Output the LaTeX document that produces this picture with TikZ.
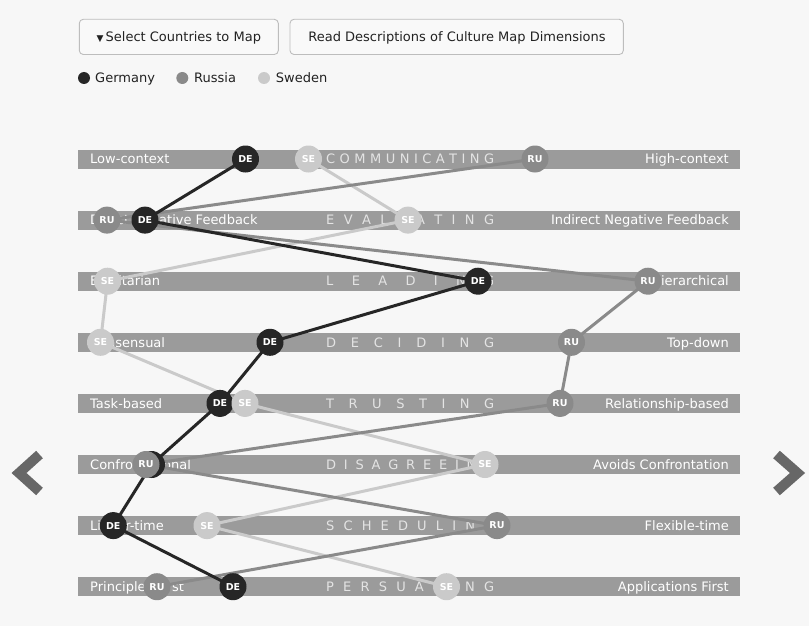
\documentclass[tikz,border=0pt]{standalone}
\usepackage{fontspec}
\setmainfont{DejaVu Sans}
\definecolor{bgc}{HTML}{F7F7F7}
\definecolor{barc}{HTML}{9B9B9B}
\definecolor{dimc}{HTML}{E4E4E4}
\definecolor{dec}{HTML}{262626}
\definecolor{ruc}{HTML}{8A8A8A}
\definecolor{sec}{HTML}{CACACA}
\definecolor{txtc}{HTML}{222222}
\definecolor{chevc}{HTML}{676767}
\definecolor{btnb}{HTML}{BDBDBD}
\definecolor{btnf}{HTML}{F9F9F9}
\pgfdeclarelayer{bglayer}
\pgfdeclarelayer{barlayer}
\pgfdeclarelayer{linelayer}
\pgfsetlayers{bglayer,barlayer,linelayer,main}
\begin{document}
\begin{tikzpicture}[x=1pt,y=-1pt,
  bar/.style={fill=barc, minimum width=662pt, minimum height=19pt, inner sep=0pt, anchor=west},
  lbl/.style={text=white, font=\fontsize{13}{15}\selectfont, inner sep=0pt},
  dimw/.style={text=dimc, font=\fontsize{13}{15}\selectfont, inner sep=0pt, anchor=base west},
  dot/.style={circle, minimum size=27pt, inner sep=0pt, text=white, font=\fontsize{9.5}{10}\selectfont\bfseries},
  dedot/.style={dot, fill=dec},
  rudot/.style={dot, fill=ruc},
  sedot/.style={dot, fill=sec},
  deline/.style={draw=dec, line width=3pt},
  ruline/.style={draw=ruc, line width=3pt},
  seline/.style={draw=sec, line width=3pt},
  btn/.style={draw=btnb, fill=btnf, rounded corners=4pt, line width=0.9pt},
  btntxt/.style={text=txtc, font=\fontsize{13}{15}\selectfont, inner sep=0pt, anchor=base},
  legtxt/.style={text=txtc, font=\fontsize{13}{15}\selectfont, inner sep=0pt, anchor=base west},
  legdot/.style={circle, minimum size=12pt, inner sep=0pt},
  chev/.style={draw=chevc, line width=10pt, miter limit=10}
]
\begin{pgfonlayer}{bglayer}
\fill[bgc] (0,0) rectangle (809,626);
\end{pgfonlayer}
\useasboundingbox (0,0) rectangle (809,626);

% buttons
\draw[btn] (79.3,19.3) rectangle (278.3,54.5);
\node[btntxt] (btnA) at (178.8,41.7) {{\fontsize{9}{10}\selectfont ▼}\,Select Countries to Map};
\draw[btn] (290,19.3) rectangle (623.3,54.5);
\node[btntxt] (btnB) at (457,41.7) {Read Descriptions of Culture Map Dimensions};

% legend
\node[legdot, fill=dec] (lgde) at (84,78) {};
\node[legtxt] (lgdet) at (95,82.7) {Germany};
\node[legdot, fill=ruc] (lgru) at (182.3,78) {};
\node[legtxt] (lgrut) at (194,82.7) {Russia};
\node[legdot, fill=sec] (lgse) at (264,78) {};
\node[legtxt] (lgset) at (275.7,82.7) {Sweden};

% bars
\begin{pgfonlayer}{barlayer}
\foreach \i/\y/\l/\c/\r in {
 1/159.0/{Low-context}/{C\hfill O\hfill M\hfill M\hfill U\hfill N\hfill I\hfill C\hfill A\hfill T\hfill I\hfill N\hfill G}/{High-context},
 2/220.1/{Direct Negative Feedback}/{E\hfill V\hfill A\hfill L\hfill U\hfill A\hfill T\hfill I\hfill N\hfill G}/{Indirect Negative Feedback},
 3/281.2/{Egalitarian}/{L\hfill E\hfill A\hfill D\hfill I\hfill N\hfill G}/{Hierarchical},
 4/342.3/{Consensual}/{D\hfill E\hfill C\hfill I\hfill D\hfill I\hfill N\hfill G}/{Top-down},
 5/403.4/{Task-based}/{T\hfill R\hfill U\hfill S\hfill T\hfill I\hfill N\hfill G}/{Relationship-based},
 6/464.5/{Confrontational}/{D\hfill I\hfill S\hfill A\hfill G\hfill R\hfill E\hfill E\hfill I\hfill N\hfill G}/{Avoids Confrontation},
 7/525.6/{Linear-time}/{S\hfill C\hfill H\hfill E\hfill D\hfill U\hfill L\hfill I\hfill N\hfill G}/{Flexible-time},
 8/586.7/{Principles First}/{P\hfill E\hfill R\hfill S\hfill U\hfill A\hfill D\hfill I\hfill N\hfill G}/{Applications First}}
{
  \node[bar] (b\i) at (78,\y) {};
  \node[lbl, anchor=base west] (bl\i) at (90,\y+4.7) {\l};
  \node[dimw] (bc\i) at (326,\y+4.7) {\makebox[168pt][l]{\c}};
  \node[lbl, anchor=base east] (br\i) at (729,\y+4.7) {\r};
}
\end{pgfonlayer}

% circles (DE, then RU, then SE on top)
\node[dedot] (de1) at (245.5,159.0) {DE};
\node[dedot] (de2) at (145,220.1) {DE};
\node[dedot] (de3) at (478,281.2) {DE};
\node[dedot] (de4) at (270,342.3) {DE};
\node[dedot] (de5) at (220,403.4) {DE};
\node[dedot] (de6) at (151.5,464.5) {};
\node[dedot] (de7) at (113.3,525.6) {DE};
\node[dedot] (de8) at (233,586.7) {DE};

\node[rudot] (ru1) at (535,159.0) {RU};
\node[rudot] (ru2) at (107,220.1) {RU};
\node[rudot] (ru3) at (648,281.2) {RU};
\node[rudot] (ru4) at (571.5,342.3) {RU};
\node[rudot] (ru5) at (560,403.4) {RU};
\node[rudot] (ru6) at (146,464.5) {RU};
\node[rudot] (ru7) at (497,525.6) {RU};
\node[rudot] (ru8) at (157,586.7) {RU};

\node[sedot] (se1) at (308.5,159.0) {SE};
\node[sedot] (se2) at (408,220.1) {SE};
\node[sedot] (se3) at (107.5,281.2) {SE};
\node[sedot] (se4) at (100.5,342.3) {SE};
\node[sedot] (se5) at (245,403.4) {SE};
\node[sedot] (se6) at (485,464.5) {SE};
\node[sedot] (se7) at (207,525.6) {SE};
\node[sedot] (se8) at (446.5,586.7) {SE};

% connecting lines
\begin{pgfonlayer}{linelayer}
\draw[seline] (se1.center) -- (se2.center) -- (se3.center) -- (se4.center) -- (se5.center) -- (se6.center) -- (se7.center) -- (se8.center);
\draw[ruline] (ru1.center) -- (ru2.center) -- (ru3.center) -- (ru4.center) -- (ru5.center) -- (ru6.center) -- (ru7.center) -- (ru8.center);
\draw[deline] (de1.center) -- (de2.center) -- (de3.center) -- (de4.center) -- (de5.center) -- (de6.center) -- (de7.center) -- (de8.center);
\end{pgfonlayer}

% navigation chevrons
\draw[chev] (39.5,454.5) -- (19,473) -- (39.5,491.5);
\draw[chev] (776.5,454.5) -- (797.5,473) -- (776.5,491.5);
\end{tikzpicture}
\end{document}
